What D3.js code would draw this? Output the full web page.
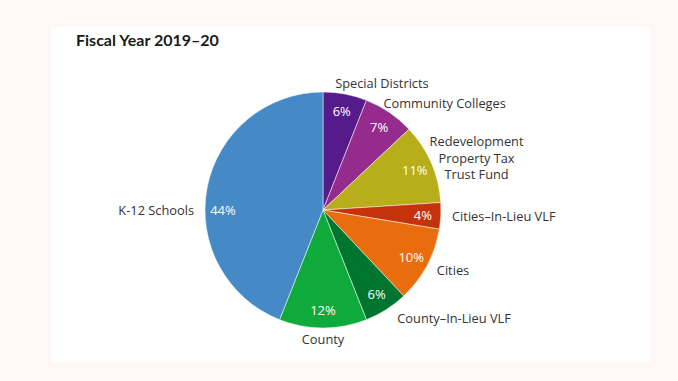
<!DOCTYPE html>
<html>
<head>
<meta charset="utf-8">
<script src="https://cdn.jsdelivr.net/npm/d3@7"></script>
<style>
  body { margin: 0; background: #fdf8f5; }
  svg { display: block; }
  .lbl { font-family: "Open Sans", sans-serif; font-size: 12.8px; fill: #333; }
  .pct { font-family: "Open Sans", sans-serif; font-size: 13px; fill: #fff; }
  .title { font-family: "Lato", sans-serif; font-size: 16px; font-weight: 700; fill: #1a1a1a; }
</style>
</head>
<body>
<div id="chart"></div>
<script>
// slices clockwise from 12 o'clock
var categories = ["Special Districts", "Community Colleges", "Redevelopment\nProperty Tax\nTrust Fund",
  "Cities\u2013In-Lieu VLF", "Cities", "County\u2013In-Lieu VLF", "County", "K-12 Schools"];
var shares = [6, 7, 11, 3.6, 10.4, 6, 12, 44];
var pctLabels = ["6%", "7%", "11%", "4%", "10%", "6%", "12%", "44%"];
var colors = ["#561b8a", "#952b8d", "#b8ad1b", "#c5330d", "#e96d0c", "#00752f", "#0eaa3b", "#4589c6"];

var width = 678, height = 381;
var cx = 323, cy = 210, r = 118;

var svg = d3.select("#chart").append("svg")
    .attr("width", width)
    .attr("height", height);

svg.append("rect")
    .attr("x", 51).attr("y", 27)
    .attr("width", 599).attr("height", 335)
    .attr("fill", "#fff");

svg.append("text")
    .attr("class", "title")
    .attr("x", 76).attr("y", 46)
    .text("Fiscal Year 2019\u201320");

var data = categories.map(function(c, i) {
  return { name: c, value: shares[i], pct: pctLabels[i], color: colors[i] };
});

var pie = d3.pie().sort(null).value(function(d) { return d.value; });
var arcs = pie(data);
var arc = d3.arc().innerRadius(0).outerRadius(r);

var g = svg.append("g").attr("transform", "translate(" + cx + "," + cy + ")");

g.selectAll("path")
    .data(arcs)
    .enter().append("path")
    .attr("d", arc)
    .attr("fill", function(d) { return d.data.color; })
    .attr("stroke", "#fff")
    .attr("stroke-width", 0.5);

// label angle: mid-angle, except a slice that spans 9 o'clock gets its label level with the centre
function labelAngle(d) {
  var west = 1.5 * Math.PI;
  if (d.startAngle < west && d.endAngle > west && (d.endAngle - d.startAngle) > Math.PI / 2) return west;
  return (d.startAngle + d.endAngle) / 2;
}

g.selectAll(".pct")
    .data(arcs)
    .enter().append("text")
    .attr("class", "pct")
    .attr("text-anchor", "middle")
    .attr("dy", "0.35em")
    .attr("x", function(d) { return Math.sin(labelAngle(d)) * 100; })
    .attr("y", function(d) { return -Math.cos(labelAngle(d)) * 100; })
    .text(function(d) { return d.data.pct; });

var lr = 129;
arcs.forEach(function(d) {
  var a = labelAngle(d);
  var s = Math.sin(a), c = Math.cos(a);
  var px = s * lr, py = -c * lr;
  var lines = d.data.name.split("\n");
  var t = g.append("text").attr("class", "lbl").attr("text-anchor", "middle");
  lines.forEach(function(line, i) {
    t.append("tspan").attr("x", 0)
      .attr("dy", i === 0 ? "0" : "1.3em")
      .text(line);
  });
  var bb = t.node().getBBox();
  var w = bb.width, h = bb.height;
  var lineH = h / lines.length;
  var ox;
  if (Math.abs(s) < 0.15) ox = px;
  else if (s > 0) ox = px + w / 2 - (c > 0.3 ? 12 : 0) + (c < -0.5 ? 5 : 0);
  else ox = px - w / 2;
  var oy = py - (lines.length - 1) * lineH / 2 + 4.5;
  t.attr("transform", "translate(" + ox + "," + oy + ")");
});
</script>
</body>
</html>
